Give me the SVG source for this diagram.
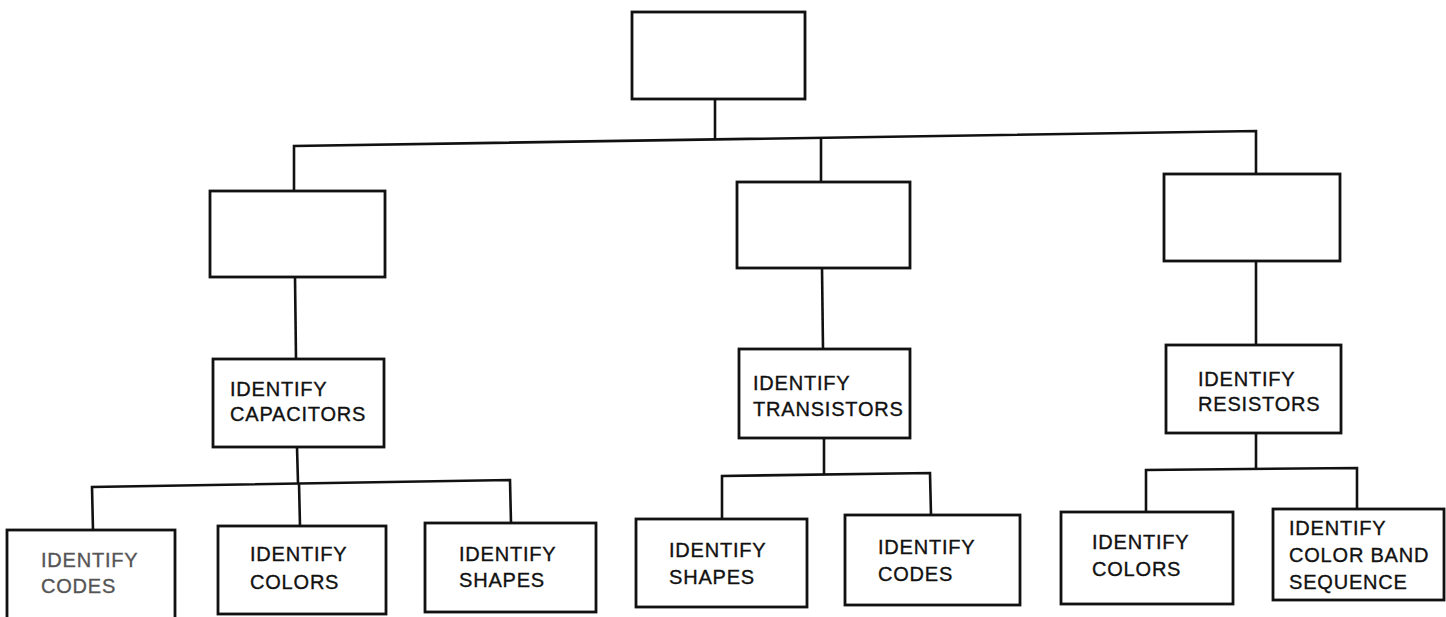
<svg xmlns="http://www.w3.org/2000/svg" width="1446" height="617" viewBox="0 0 1446 617">
<style>
.box{fill:none;stroke:#111;stroke-width:2.8}
.ln{fill:none;stroke:#111;stroke-width:2.6}
text{font-family:"Liberation Sans",Arial,sans-serif;font-size:20px;letter-spacing:0.8px;fill:#111;stroke:#111;stroke-width:0.35}
.faint{fill:#555;stroke:#555}
</style>
<rect width="1446" height="617" fill="#fff"/>
<g id="connectors">
<polyline class="ln" points="715,99 715,139"/>
<polyline class="ln" points="294,191 294,146 1256,131 1256,174"/>
<polyline class="ln" points="821,138 821,182"/>
<polyline class="ln" points="295,277 296,359"/>
<polyline class="ln" points="822,268 823,349"/>
<polyline class="ln" points="1256,261 1256,345"/>
<polyline class="ln" points="297,447 298,483"/>
<polyline class="ln" points="93,530 92,487 510,480 511,523"/>
<polyline class="ln" points="299,483 300,526"/>
<polyline class="ln" points="824,438 824,474"/>
<polyline class="ln" points="722,519 722,476 930,473 931,515"/>
<polyline class="ln" points="1256,434 1256,469"/>
<polyline class="ln" points="1146,512 1146,470 1357,468 1357,509"/>
</g>
<g id="root"><rect class="box" x="632" y="12" width="173" height="87"/></g>
<g id="l1"><rect class="box" x="210" y="191" width="175" height="86"/></g>
<g id="m1"><rect class="box" x="737" y="182" width="173" height="86"/></g>
<g id="r1"><rect class="box" x="1164" y="174" width="176" height="87"/></g>
<g id="capacitors"><rect class="box" x="213" y="359" width="171" height="88"/>
<text x="230" y="396">IDENTIFY</text><text x="230" y="421">CAPACITORS</text></g>
<g id="transistors"><rect class="box" x="739" y="349" width="171" height="89"/>
<text x="753" y="390">IDENTIFY</text><text x="753" y="416">TRANSISTORS</text></g>
<g id="resistors"><rect class="box" x="1166" y="345" width="175" height="88"/>
<text x="1198" y="386">IDENTIFY</text><text x="1198" y="411">RESISTORS</text></g>
<g id="cap-codes"><rect class="box" x="7" y="530" width="168" height="95"/>
<text class="faint" x="41" y="567">IDENTIFY</text><text class="faint" x="41" y="593">CODES</text></g>
<g id="cap-colors"><rect class="box" x="218" y="526" width="168" height="88"/>
<text x="250" y="561">IDENTIFY</text><text x="250" y="589">COLORS</text></g>
<g id="cap-shapes"><rect class="box" x="425" y="523" width="171" height="89"/>
<text x="459" y="561">IDENTIFY</text><text x="459" y="587">SHAPES</text></g>
<g id="tr-shapes"><rect class="box" x="636" y="519" width="171" height="88"/>
<text x="669" y="557">IDENTIFY</text><text x="669" y="584">SHAPES</text></g>
<g id="tr-codes"><rect class="box" x="845" y="515" width="175" height="90"/>
<text x="878" y="554">IDENTIFY</text><text x="878" y="581">CODES</text></g>
<g id="res-colors"><rect class="box" x="1061" y="512" width="172" height="92"/>
<text x="1092" y="549">IDENTIFY</text><text x="1092" y="576">COLORS</text></g>
<g id="res-band"><rect class="box" x="1273" y="509" width="171" height="91"/>
<text x="1289" y="535">IDENTIFY</text><text x="1289" y="562">COLOR BAND</text><text x="1289" y="589">SEQUENCE</text></g>
</svg>
